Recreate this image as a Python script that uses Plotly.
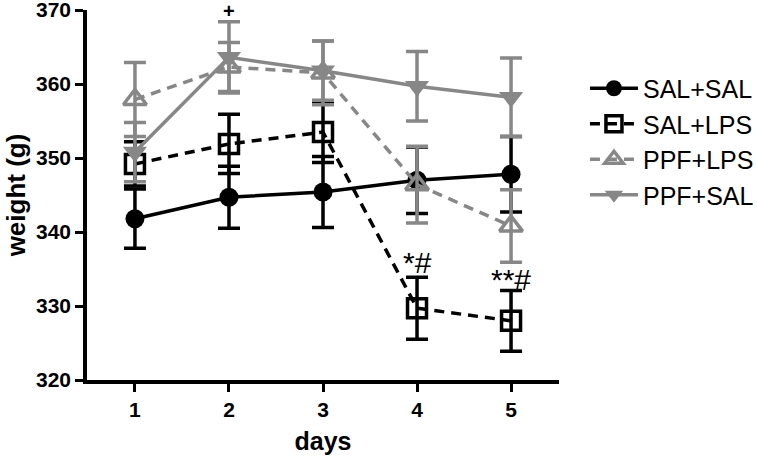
import plotly.graph_objects as go

days = [1, 2, 3, 4, 5]
sal_sal = [341.8, 344.7, 345.4, 347.0, 347.8]
sal_sal_err = [4.0, 4.2, 4.8, 4.5, 5.1]
sal_lps = [349.2, 351.9, 353.5, 329.7, 328.0]
sal_lps_err = [3.0, 4.0, 4.1, 4.2, 4.1]
ppf_lps = [357.9, 362.3, 361.5, 346.4, 340.8]
ppf_lps_err = [5.0, 3.3, 4.3, 5.2, 4.9]
ppf_sal = [350.8, 363.6, 361.8, 359.7, 358.2]
ppf_sal_err = [4.0, 4.8, 4.0, 4.7, 5.3]

annot_text = ["+", "*#", "**#"]
annot_day = [2, 4, 5]
annot_y = [370.0, 335.9, 333.6]
annot_shift = [-1, 0, 0]
annot_bold = [True, False, False]

BLACK = "#000000"
GRAY = "#878787"
FONT = "Liberation Sans"

series = [
    ("SAL+SAL", sal_sal, sal_sal_err, BLACK, "solid", "circle", 19, 0),
    ("SAL+LPS", sal_lps, sal_lps_err, BLACK, "10px,7px", "square-open", 19, 3.5),
    ("PPF+LPS", ppf_lps, ppf_lps_err, GRAY, "10px,7px", "triangle-up-open", 20, 3.5),
    ("PPF+SAL", ppf_sal, ppf_sal_err, GRAY, "solid", "triangle-down", 21, 0),
]

fig = go.Figure()
for i, (name, vals, errs, col, dash, sym, sz, lw) in enumerate(series):
    fig.add_trace(go.Scatter(
        x=days, y=vals, name=name, mode="lines+markers",
        legendgroup=f"g{i}",
        line=dict(color=col, width=3.5, dash=dash),
        marker=dict(symbol=sym, size=sz, color=col,
                    line=dict(color=col, width=lw)),
        error_y=dict(type="data", array=errs, visible=True, color=col,
                     thickness=3.5, width=11),
    ))

for t, d, yv, ys, b in zip(annot_text, annot_day, annot_y, annot_shift, annot_bold):
    fig.add_annotation(x=d, y=yv, text=t, showarrow=False, yshift=ys,
                       font=dict(family=FONT, size=20 if b else 30, color="black",
                                 weight="bold" if b else "normal"),
                       yanchor="middle")

fig.update_layout(
    width=757, height=463,
    margin=dict(l=87, r=198, t=10, b=83, autoexpand=False),
    plot_bgcolor="white", paper_bgcolor="white",
    font=dict(family=FONT, size=20, color="black"),
    showlegend=True,
    legend=dict(x=1.055, y=0.85, xanchor="left", yanchor="top",
                font=dict(family=FONT, size=25, color="black"),
                itemwidth=48,
                tracegroupgap=0, bgcolor="rgba(0,0,0,0)"),
    xaxis=dict(range=[0.49, 5.51], tickvals=days, ticks="outside", ticklen=8,
               tickwidth=3, tickcolor="black", showline=True, linewidth=3.5,
               linecolor="black", showgrid=False, zeroline=False, automargin=False,
               ticklabeloverflow="allow",
               tickfont=dict(family=FONT, size=21, weight="bold"),
               title=dict(text="days", font=dict(family=FONT, size=25, weight="bold"),
                          standoff=14)),
    yaxis=dict(range=[320, 370], tickvals=[320, 330, 340, 350, 360, 370],
               ticks="outside", ticklen=8, tickwidth=3, tickcolor="black",
               showline=True, linewidth=3.5, linecolor="black", showgrid=False,
               zeroline=False, automargin=False, ticklabeloverflow="allow",
               tickfont=dict(family=FONT, size=21, weight="bold"),
               title=dict(text="weight (g)", font=dict(family=FONT, size=26, weight="bold"),
                          standoff=4)),
)

fig.write_html("out.html", config={"displayModeBar": False},
               post_script="document.body.style.margin='0';")
